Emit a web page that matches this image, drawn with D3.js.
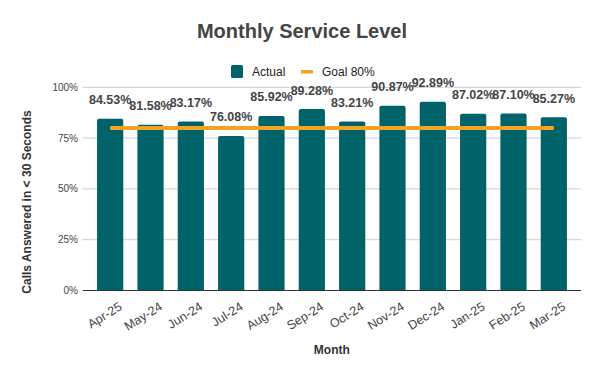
<!DOCTYPE html>
<meta charset="utf-8">
<head>
    <title>Monthly Service Level</title>
    <script type="text/javascript" src="https://cdn.jsdelivr.net/npm/d3@7"></script>
    <style>
        body { margin: 0; padding: 0; background: #fff; }
        svg { font-family: "Liberation Sans", Arial, sans-serif; display: block; }
    </style>
</head>
<body>
<script>
    // chart data
    const months = ["Apr-25", "May-24", "Jun-24", "Jul-24", "Aug-24", "Sep-24",
                    "Oct-24", "Nov-24", "Dec-24", "Jan-25", "Feb-25", "Mar-25"];
    const actual = [84.53, 81.58, 83.17, 76.08, 85.92, 89.28,
                    83.21, 90.87, 92.89, 87.02, 87.10, 85.27];
    const goal = [80, 80, 80, 80, 80, 80, 80, 80, 80, 80, 80, 80];
    const yTicks = [0, 25, 50, 75, 100];

    const width = 600, height = 371;
    const plot = {left: 82.7, right: 581, top: 87.3, bottom: 290.5};

    const svg = d3.select("body").append("svg")
        .attr("width", width)
        .attr("height", height);

    const x = d3.scaleBand()
        .domain(months)
        .range([90, 574])
        .paddingInner(0.35)
        .paddingOuter(0.175);

    const y = d3.scaleLinear()
        .domain([0, 100])
        .range([plot.bottom, plot.top]);

    // title
    svg.append("text")
        .attr("x", 302).attr("y", 38)
        .attr("text-anchor", "middle")
        .attr("font-size", 20).attr("font-weight", "bold")
        .attr("fill", "#444")
        .text("Monthly Service Level");

    // legend
    const legend = svg.append("g").attr("transform", "translate(231,65)");
    legend.append("rect").attr("width", 12).attr("height", 13).attr("rx", 1.5).attr("fill", "#01636a");
    legend.append("text").attr("x", 21).attr("y", 11).attr("font-size", 12).attr("fill", "#222").text("Actual");
    legend.append("rect").attr("x", 70).attr("y", 5).attr("width", 12).attr("height", 3.5).attr("fill", "#f5a124");
    legend.append("text").attr("x", 91).attr("y", 11).attr("font-size", 12).attr("fill", "#222").text("Goal 80%");

    // gridlines + y labels
    const grid = svg.append("g");
    grid.selectAll("line").data(yTicks.filter(d => d > 0)).enter().append("line")
        .attr("x1", plot.left).attr("x2", plot.right)
        .attr("y1", d => y(d)).attr("y2", d => y(d))
        .attr("stroke", "#ccc").attr("stroke-width", 1);
    grid.selectAll("text").data(yTicks).enter().append("text")
        .attr("x", 78).attr("y", d => y(d) + 3.5)
        .attr("text-anchor", "end")
        .attr("font-size", 10).attr("fill", "#444")
        .text(d => d + "%");

    // bars
    svg.append("g").selectAll("path").data(actual).enter().append("path")
        .attr("fill", "#01636a")
        .attr("d", (d, i) => {
            const x0 = x(months[i]), w = x.bandwidth(), t = y(d), b = y(0), r = 2;
            return `M${x0},${b}V${t + r}Q${x0},${t} ${x0 + r},${t}H${x0 + w - r}Q${x0 + w},${t} ${x0 + w},${t + r}V${b}Z`;
        });

    // baseline axis
    svg.append("line")
        .attr("x1", plot.left).attr("x2", plot.right)
        .attr("y1", y(0)).attr("y2", y(0))
        .attr("stroke", "#333").attr("stroke-width", 1);

    // goal line
    const line = d3.line()
        .x((d, i) => x(months[i]) + x.bandwidth() / 2)
        .y(d => y(d));
    svg.append("path")
        .datum(goal)
        .attr("d", line)
        .attr("fill", "none")
        .attr("stroke", "#f5a124")
        .attr("stroke-width", 4);

    // value labels
    svg.append("g").selectAll("text").data(actual).enter().append("text")
        .attr("x", (d, i) => x(months[i]) + x.bandwidth() / 2)
        .attr("y", d => y(d) - 14.5)
        .attr("text-anchor", "middle")
        .attr("font-size", 12.5).attr("font-weight", "bold")
        .attr("fill", "#444")
        .text(d => d.toFixed(2) + "%");

    // x tick labels
    svg.append("g").selectAll("text").data(months).enter().append("text")
        .attr("transform", d => `translate(${x(d) + x.bandwidth() / 2 + 8},${y(0) + 11}) rotate(-32)`)
        .attr("text-anchor", "end")
        .attr("dy", "0.7em")
        .attr("font-size", 12.5).attr("fill", "#444")
        .text(d => d);

    // axis titles
    svg.append("text")
        .attr("x", (plot.left + plot.right) / 2).attr("y", 354)
        .attr("text-anchor", "middle")
        .attr("font-size", 12).attr("font-weight", "bold").attr("fill", "#333")
        .text("Month");

    svg.append("text")
        .attr("transform", "translate(31,202) rotate(-90)")
        .attr("text-anchor", "middle")
        .attr("font-size", 12).attr("font-weight", "bold").attr("fill", "#333")
        .text("Calls Answered in < 30 Seconds");
</script>
</body>
</html>
